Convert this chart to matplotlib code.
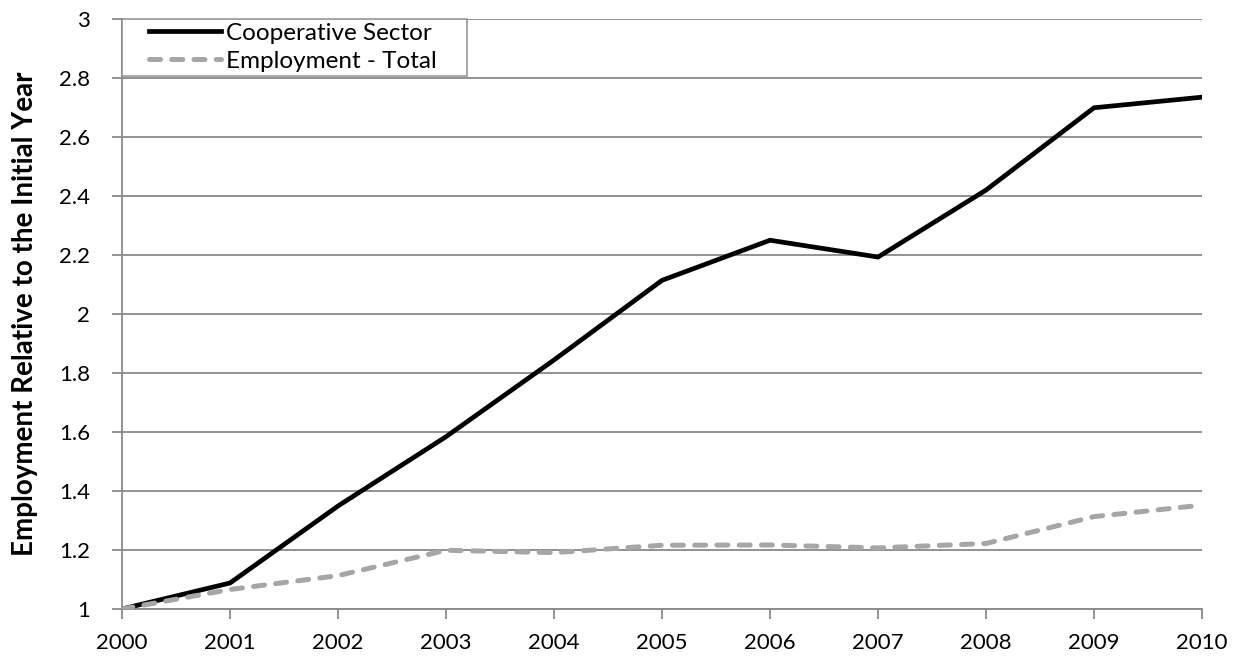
import numpy as np
import matplotlib.pyplot as plt
from matplotlib.legend_handler import HandlerLine2D

years = [2000, 2001, 2002, 2003, 2004, 2005, 2006, 2007, 2008, 2009, 2010]
coop_sector = [1.0, 1.088, 1.349, 1.584, 1.844, 2.114, 2.25, 2.193, 2.42, 2.699, 2.735]
employment_total = [1.0, 1.066, 1.113, 1.199, 1.191, 1.216, 1.217, 1.207, 1.222, 1.313, 1.352]
y_ticks = [1, 1.2, 1.4, 1.6, 1.8, 2, 2.2, 2.4, 2.6, 2.8, 3]
y_labels = ['1', '1.2', '1.4', '1.6', '1.8', '2', '2.2', '2.4', '2.6', '2.8', '3']

plt.rcParams['font.family'] = ['Lato', 'DejaVu Sans']
axis_grey = '#898989'

fig = plt.figure(figsize=(12.36, 6.57), dpi=100)
ax = fig.add_axes([0.0987, 0.0731, 0.8738, 0.8980])

ax.plot(years, coop_sector, color='black', lw=3.4, solid_joinstyle='miter',
        label='Cooperative Sector', zorder=3)
ax.plot(years, employment_total, color='#a6a6a6', lw=3.6, ls=(0, (2.2, 2.25)),
        dash_capstyle='round', label='Employment - Total', zorder=3)

ax.set_xlim(2000, 2010)
ax.set_ylim(1, 3)
ax.set_xticks(years)
ax.set_xticklabels([str(y) for y in years])
ax.set_yticks(y_ticks)
ax.set_yticklabels(y_labels)
ax.grid(axis='y', color=axis_grey, lw=1.3)
ax.set_axisbelow(True)

for side in ['top', 'right']:
    ax.spines[side].set_visible(False)
for side in ['left', 'bottom']:
    ax.spines[side].set_color(axis_grey)
    ax.spines[side].set_linewidth(1.3)

ax.tick_params(axis='both', labelsize=16, color=axis_grey, width=1.3, length=7, direction='out')
ax.tick_params(axis='y', pad=16)
ax.tick_params(axis='x', pad=10)

ax.set_ylabel('Employment Relative to the Initial Year', fontsize=20, fontweight='bold', labelpad=15)

# legend box spans the corner like the Excel one, handle inset from the left
hmap = {l: HandlerLine2D(xpad=0.96) for l in ax.get_lines()}
leg = ax.legend(loc='upper left', bbox_to_anchor=(0, 1, 0.319, 0), mode='expand',
                fontsize=17.5, frameon=True, fancybox=False, edgecolor=axis_grey,
                handlelength=3.92, handler_map=hmap, borderaxespad=0,
                borderpad=0.15, labelspacing=0.3, handletextpad=0.2)
leg.get_frame().set_linewidth(1.3)

fig.savefig('out.png', dpi=100)
